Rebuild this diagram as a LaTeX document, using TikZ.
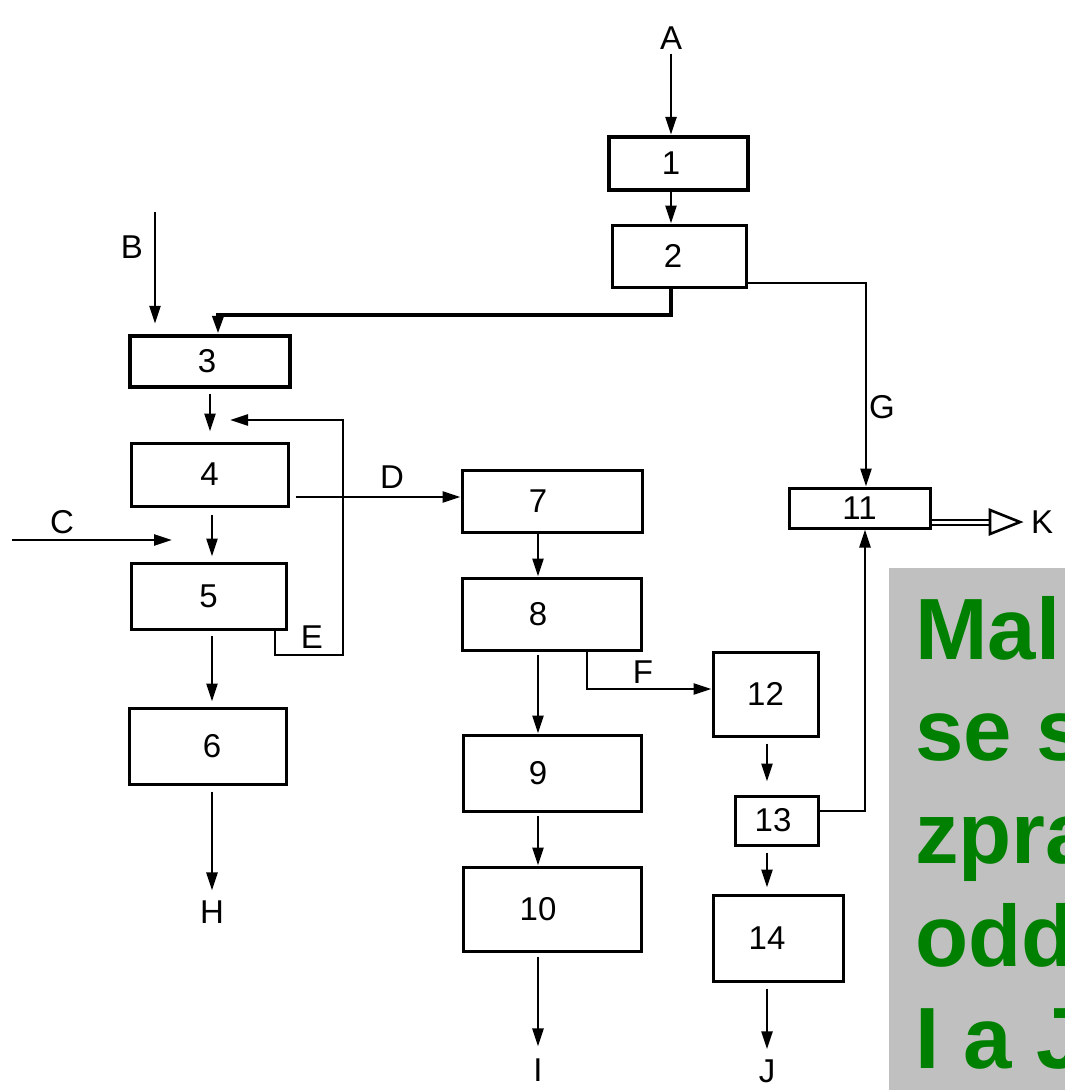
\documentclass[tikz,border=0pt]{standalone}
\usepackage{fontspec}
\setmainfont{Liberation Sans}
\usetikzlibrary{arrows.meta}
\definecolor{slidegreen}{RGB}{0,128,0}
\definecolor{slidegrey}{RGB}{192,192,192}
\begin{document}
\begin{tikzpicture}[x=1pt,y=-1pt,
  box/.style={draw, line width=3pt, rectangle, inner sep=0pt, font=\fontsize{33}{40}\selectfont},
  thickbox/.style={box, line width=4.4pt},
  lab/.style={font=\fontsize{33}{40}\selectfont, inner sep=0pt},
  arr/.style={line width=2.6pt, -{Triangle[length=18pt,width=11pt]}},
  heavy/.style={line width=4pt},
  slide/.style={anchor=base west, inner sep=0pt, text=slidegreen, font=\fontsize{87}{102}\selectfont\bfseries},
]
\useasboundingbox (0,0) rectangle (1065,1090);
\fill[white] (0,0) rectangle (1065,1090);

% boxes
\node[thickbox, minimum width=139pt, minimum height=53pt] (b1) at (678.5,163.5) {1\kern15pt};
\node[box, minimum width=134pt, minimum height=62pt] (b2) at (679,256) {2\kern12pt};
\node[thickbox, minimum width=160pt, minimum height=51pt] (b3) at (210,361.5) {3\kern6pt};
\node[box, minimum width=157pt, minimum height=63pt] (b4) at (209.5,474.5) {4};
\node[box, minimum width=155pt, minimum height=66pt] (b5) at (208.5,596) {5};
\node[box, minimum width=157pt, minimum height=76pt] (b6) at (207.5,746) {\kern9pt 6};
\node[box, minimum width=180pt, minimum height=62pt] (b7) at (552,501) {7\kern28pt};
\node[box, minimum width=179pt, minimum height=72pt] (b8) at (551.5,614) {8\kern27pt};
\node[box, minimum width=178pt, minimum height=76pt] (b9) at (552,773) {9\kern28pt};
\node[box, minimum width=178pt, minimum height=84pt] (b10) at (552,909) {10\kern28pt};
\node[box, minimum width=141pt, minimum height=40pt] (b11) at (859.5,508) {11};
\node[box, minimum width=105pt, minimum height=84pt] (b12) at (765.5,694) {12};
\node[box, minimum width=83pt, minimum height=49pt] (b13) at (776.5,820.5) {13\kern7pt};
\node[box, minimum width=130pt, minimum height=86pt] (b14) at (778,938) {14\kern22pt};

% labels
\node[lab] (lA) at (671,38) {A};
\node[lab] (lB) at (132,247) {B};
\node[lab] (lC) at (62,522) {C};
\node[lab] (lD) at (392,477) {D};
\node[lab] (lE) at (312,637) {E};
\node[lab] (lF) at (643,672) {F};
\node[lab] (lG) at (882,407) {G};
\node[lab] (lH) at (212,912) {H};
\node[lab] (lI) at (538,1070) {I};
\node[lab] (lJ) at (767,1071) {J};
\node[lab, anchor=west] (lK) at (1031,522) {K};

% helper coordinates
\coordinate (xB) at (155,212);
\coordinate (k23) at (218,315);
\coordinate (kG) at (866,283);
\coordinate (x3) at (210,0);
\coordinate (x45) at (212,0);
\coordinate (e1) at (275,655);
\coordinate (e2) at (343,420);
\coordinate (eTip) at (230,420);
\coordinate (dY) at (0,497);
\coordinate (c0) at (12,540);
\coordinate (cTip) at (172,540);
\coordinate (x7) at (538,0);
\coordinate (kF) at (587,689);
\coordinate (x12) at (767,0);
\coordinate (k13) at (865,811);
\coordinate (kK) at (990,522);

% connectors
\draw[arr, shorten <=4pt] (lA.south) -- (b1.north -| lA);
\draw[arr] (b1.south -| lA) -- (b2.north -| lA);
\draw[arr, shorten >=10pt] (xB) -- (b3.north -| xB);
\draw[arr, heavy] (b2.south -| lA) -- (lA |- k23) -- (k23) -- (b3.north -| k23);
\draw[arr] (b2.east |- kG) -- (kG) -- (b11.north -| kG);
\draw[arr, shorten <=5pt, shorten >=10pt] (b3.south -| x3) -- (b4.north -| x3);
\draw[arr] (b5.south -| e1) -- (e1) -- (e1 -| e2) -- (e2) -- (eTip);
\draw[arr, shorten <=6pt] (b4.east |- dY) -- (b7.west |- dY);
\draw[arr] (c0) -- (cTip);
\draw[arr, shorten <=7pt, shorten >=5pt] (b4.south -| x45) -- (b5.north -| x45);
\draw[arr, shorten <=5pt, shorten >=5pt] (b5.south -| x45) -- (b6.north -| x45);
\draw[arr, shorten <=6pt, shorten >=10pt] (b6.south -| x45) -- (lH.north);
\draw[arr] (b7.south -| x7) -- (b8.north -| x7);
\draw[arr, shorten <=3pt] (b8.south -| x7) -- (b9.north -| x7);
\draw[arr, shorten <=3pt] (b9.south -| x7) -- (b10.north -| x7);
\draw[arr, shorten <=4pt, shorten >=12pt] (b10.south -| x7) -- (lI.north);
\draw[arr] (b8.south -| kF) -- (kF) -- (b12.west |- kF);
\draw[arr, shorten <=6pt, shorten >=13pt] (b12.south -| x12) -- (b13.north -| x12);
\draw[arr] (b13.east |- k13) -- (k13) -- (b11.south -| k13);
\draw[arr, shorten <=6pt, shorten >=6pt] (b13.south -| x12) -- (b14.north -| x12);
\draw[arr, shorten <=6pt, shorten >=10pt] (b14.south -| x12) -- (lJ.north);
\draw[double, double distance=3pt, line width=2pt] (b11.east |- kK) -- (kK);
\draw[line width=2.6pt, fill=white, line join=miter] (kK) ++(0,-12) -- ++(30,12) -- ++(-30,12) -- cycle;

% grey overlay with green text
\fill[slidegrey] (889,568) rectangle (1065,1090);
\node[slide] (t1) at (915,659) {Mal};
\node[slide] (t2) at (915,760) {se s};
\node[slide] (t3) at (915,863) {zpra};
\node[slide] (t4) at (915,966) {odd};
\node[slide] (t5) at (915,1068) {I a J};
\end{tikzpicture}
\end{document}
